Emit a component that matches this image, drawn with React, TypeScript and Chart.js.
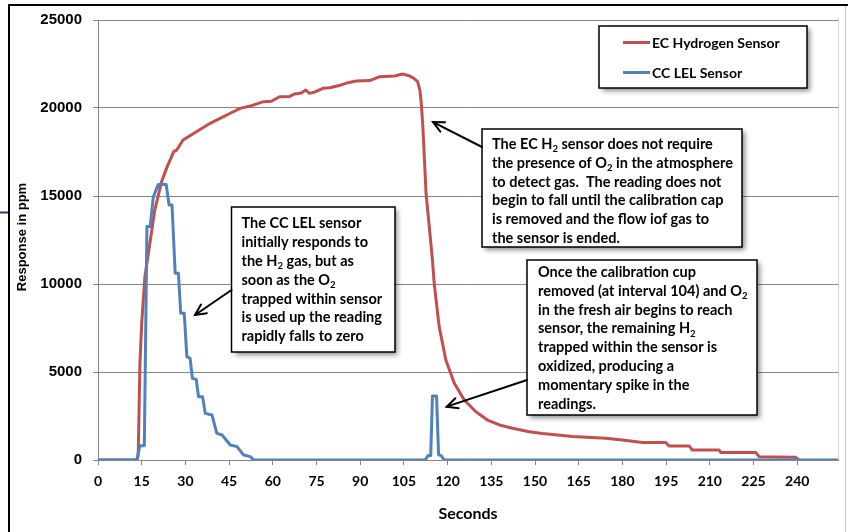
import React, { useEffect, useRef } from "react";
import { Chart, registerables } from "chart.js";

Chart.register(...registerables);

// ---- data ----
const seriesNames = ["EC Hydrogen Sensor", "CC LEL Sensor"];

const ecTime = [0, 13.4, 13.8, 14.4, 15.0, 16.1, 17.8, 19.5, 21.8, 23.5, 26.0, 27.0, 29.2, 31.0, 33.9, 38.5, 41.9, 45.4, 48.8, 52.2, 56.8, 59.5, 62.3, 65.8, 67.5, 69.8, 71.3, 72.6, 74.3, 77.2, 79.5, 83.5, 85.8, 88.7, 93.3, 96.7, 101.8, 104.5, 106.5, 108.3, 109.7, 110.5, 111.0, 111.5, 112.6, 113.7, 114.8, 115.4, 117.1, 119.4, 122.3, 125.7, 129.7, 133.7, 137.8, 142.3, 148.0, 152.6, 162.9, 174.3, 180.0, 186.9, 194.9, 196.0, 202.9, 204.0, 213.2, 213.8, 225.8, 226.9, 239.5, 240.6];
const ecValue = [0, 0, 300, 5510, 7780, 10420, 12310, 14200, 15800, 16570, 17520, 17610, 18180, 18370, 18660, 19130, 19410, 19700, 19980, 20110, 20360, 20380, 20640, 20660, 20800, 20850, 21020, 20830, 20900, 21120, 21150, 21310, 21440, 21530, 21560, 21780, 21820, 21930, 21850, 21700, 21500, 21000, 20200, 18940, 15150, 13260, 11360, 10040, 7580, 5680, 4360, 3410, 2740, 2270, 1990, 1800, 1610, 1510, 1330, 1230, 1140, 1000, 1000, 800, 800, 570, 570, 420, 420, 190, 150, 0];

const ccTime = [0, 13.3, 14.4, 15.9, 16.8, 17.9, 19.0, 20.7, 23.4, 24.4, 25.4, 26.5, 27.6, 28.4, 29.6, 30.5, 31.6, 32.4, 33.7, 34.5, 35.9, 36.8, 39.1, 40.8, 42.6, 45.4, 47.7, 50.0, 52.3, 53.4, 112.3, 113.3, 114.2, 114.8, 116.2, 116.9, 117.8, 118.8, 254];
const ccValue = [0, 0, 810, 810, 13260, 13260, 14960, 15660, 15660, 14490, 14490, 10610, 10610, 8340, 8340, 5870, 5780, 4640, 4580, 3600, 3600, 2650, 2560, 1510, 1420, 850, 760, 280, 190, 0, 0, 250, 250, 3640, 3640, 300, 250, 0, 0];

const xTickValues = [0, 15, 30, 45, 60, 75, 90, 105, 120, 135, 150, 165, 180, 195, 210, 225, 240];
const yTickValues = [0, 5000, 10000, 15000, 20000, 25000];

const xTitle = "Seconds";
const yTitle = "Response in ppm";

const noteEC = [
  "The EC H{2} sensor does not require",
  "the presence of O{2} in the atmosphere",
  "to detect gas.  The reading does not",
  "begin to fall until the calibration cap",
  "is removed and the flow iof gas to",
  "the sensor is ended.",
];
const noteCC = [
  "The CC LEL sensor",
  "initially responds to",
  "the H{2} gas, but as",
  "soon as the O{2}",
  "trapped within sensor",
  "is used up the reading",
  "rapidly falls to zero",
];
const noteSpike = [
  "Once the calibration cup",
  "removed (at interval 104) and O{2}",
  "in the fresh air begins to reach",
  "sensor, the remaining H{2}",
  "trapped within the sensor is",
  "oxidized, producing a",
  "momentary spike in the",
  "readings.",
];

// arrow targets in data coordinates [seconds, ppm]
const arrowTargets = [
  [115.0, 19200],
  [33.3, 8240],
  [119.7, 3030],
];

const RED = "#C0504D";
const BLUE = "#4F81BD";
const NOTE_FONT = "Lato";
const NOTE_SIZE = 14.5;
const LEGEND_SIZE = 14;

function drawRich(ctx: CanvasRenderingContext2D, s: string, x: number, y: number, size: number, family: string) {
  const parts = s.split(/\{(\d+)\}/);
  let cx = x;
  parts.forEach((p, i) => {
    if (!p) return;
    const sub = i % 2 === 1;
    ctx.font = `bold ${sub ? size * 0.66 : size}px ${family}`;
    ctx.fillText(p, cx, sub ? y + size * 0.22 : y);
    cx += ctx.measureText(p).width;
  });
}

function drawBox(ctx: CanvasRenderingContext2D, x: number, y: number, w: number, h: number) {
  ctx.save();
  ctx.shadowColor = "rgba(0,0,0,0.45)";
  ctx.shadowBlur = 5;
  ctx.shadowOffsetX = 3;
  ctx.shadowOffsetY = 3;
  ctx.fillStyle = "#ffffff";
  ctx.fillRect(x, y, w, h);
  ctx.restore();
  ctx.save();
  ctx.strokeStyle = "#000000";
  ctx.lineWidth = 1.5;
  ctx.strokeRect(x, y, w, h);
  ctx.restore();
}

function drawArrow(ctx: CanvasRenderingContext2D, x1: number, y1: number, x2: number, y2: number) {
  const a = Math.atan2(y2 - y1, x2 - x1);
  const L = 12;
  const s = 0.45;
  ctx.save();
  ctx.strokeStyle = "#000";
  ctx.lineWidth = 2;
  ctx.lineCap = "round";
  ctx.lineJoin = "miter";
  ctx.beginPath();
  ctx.moveTo(x1, y1);
  ctx.lineTo(x2, y2);
  ctx.stroke();
  ctx.beginPath();
  ctx.moveTo(x2 - L * Math.cos(a - s), y2 - L * Math.sin(a - s));
  ctx.lineTo(x2, y2);
  ctx.lineTo(x2 - L * Math.cos(a + s), y2 - L * Math.sin(a + s));
  ctx.stroke();
  ctx.restore();
}

const notes = [
  { lines: noteEC, box: [482, 129, 260, 118], textX: 492, base: 149, tail: [482, 147] },
  { lines: noteCC, box: [231.5, 207, 163.5, 145], textX: 241.5, base: 228.3, tail: [231.5, 290] },
  { lines: noteSpike, box: [527, 260, 230, 155], textX: 538, base: 277, tail: [527, 380] },
];

const overlayPlugin = {
  id: "overlay",
  afterDraw(chart: any) {
    const ctx: CanvasRenderingContext2D = chart.ctx;
    const ca = chart.chartArea;
    const xs = chart.scales.x;
    const ys = chart.scales.y;
    ctx.save();

    // plot area right border
    ctx.strokeStyle = "#d4d4d4";
    ctx.lineWidth = 1;
    ctx.beginPath();
    ctx.moveTo(ca.right + 0.5, ca.top - 2);
    ctx.lineTo(ca.right + 0.5, ca.bottom);
    ctx.stroke();

    // outer frame
    ctx.strokeStyle = "#000";
    ctx.lineWidth = 2;
    ctx.beginPath();
    ctx.moveTo(9, 532);
    ctx.lineTo(9, 5);
    ctx.lineTo(848, 5);
    ctx.stroke();
    ctx.strokeStyle = "#c8c8c8";
    ctx.lineWidth = 1;
    ctx.beginPath();
    ctx.moveTo(845.5, 6);
    ctx.lineTo(845.5, 532);
    ctx.stroke();
    ctx.strokeStyle = "#1F3D6E";
    ctx.lineWidth = 2;
    ctx.beginPath();
    ctx.moveTo(0, 212.5);
    ctx.lineTo(8, 212.5);
    ctx.stroke();

    // legend
    drawBox(ctx, 599, 26, 208, 62);
    ctx.lineWidth = 3;
    ctx.strokeStyle = RED;
    ctx.beginPath();
    ctx.moveTo(623, 42.5);
    ctx.lineTo(650, 42.5);
    ctx.stroke();
    ctx.strokeStyle = BLUE;
    ctx.beginPath();
    ctx.moveTo(623, 72.5);
    ctx.lineTo(650, 72.5);
    ctx.stroke();
    ctx.fillStyle = "#000";
    ctx.textAlign = "left";
    ctx.textBaseline = "alphabetic";
    drawRich(ctx, seriesNames[0], 652, 47.5, LEGEND_SIZE, NOTE_FONT);
    drawRich(ctx, seriesNames[1], 652, 77.5, LEGEND_SIZE, NOTE_FONT);

    // notes
    notes.forEach((n, i) => {
      const [bx, by, bw, bh] = n.box;
      drawBox(ctx, bx, by, bw, bh);
      ctx.fillStyle = "#000";
      n.lines.forEach((ln, k) => {
        drawRich(ctx, ln, n.textX, n.base + k * 18.8, NOTE_SIZE, NOTE_FONT);
      });
      const t = arrowTargets[i];
      drawArrow(ctx, n.tail[0], n.tail[1], xs.getPixelForValue(t[0]), ys.getPixelForValue(t[1]));
    });

    // axis titles
    ctx.fillStyle = "#000";
    ctx.font = "bold 16px Lato";
    ctx.textAlign = "center";
    ctx.textBaseline = "alphabetic";
    ctx.fillText(xTitle, (ca.left + ca.right) / 2, 519);
    ctx.save();
    ctx.translate(26, 237);
    ctx.rotate(-Math.PI / 2);
    ctx.font = "bold 13px 'Liberation Sans'";
    ctx.textAlign = "center";
    ctx.fillText(yTitle, 0, 0);
    ctx.restore();

    ctx.restore();
  },
};

export default function App() {
  const ref = useRef<HTMLCanvasElement | null>(null);
  useEffect(() => {
    if (!ref.current) return;
    const ecData = ecTime.map((t, i) => ({ x: t, y: ecValue[i] }));
    const ccData = ccTime.map((t, i) => ({ x: t, y: ccValue[i] }));
    const chart = new Chart(ref.current, {
      type: "line",
      data: {
        datasets: [
          { label: seriesNames[0], data: ecData, borderColor: RED, backgroundColor: RED, borderWidth: 3, pointRadius: 0, tension: 0, order: 2, borderJoinStyle: "round" },
          { label: seriesNames[1], data: ccData, borderColor: BLUE, backgroundColor: BLUE, borderWidth: 3, pointRadius: 0, tension: 0, order: 1, borderJoinStyle: "round" },
        ],
      },
      options: {
        animation: false,
        responsive: false,
        devicePixelRatio: 1,
        layout: { padding: { top: 20, right: 20, left: 0, bottom: 0 } },
        plugins: { legend: { display: false }, tooltip: { enabled: false }, title: { display: false } },
        scales: {
          x: {
            type: "linear",
            min: 0,
            max: 254,
            afterBuildTicks: (s: any) => {
              s.ticks = xTickValues.map((v) => ({ value: v }));
            },
            afterFit: (s: any) => {
              s.height = 72;
            },
            grid: { drawOnChartArea: false, drawTicks: true, tickLength: 5, color: "#868686" },
            border: { color: "#868686", width: 1 },
            ticks: {
              font: { family: "Lato", weight: "bold", size: 14 },
              color: "#000",
              padding: 8,
              maxRotation: 0,
              autoSkip: false,
              callback: (v: any) => String(v),
            },
          },
          y: {
            type: "linear",
            min: 0,
            max: 25000,
            afterBuildTicks: (s: any) => {
              s.ticks = yTickValues.map((v) => ({ value: v }));
            },
            afterFit: (s: any) => {
              s.width = 98;
            },
            grid: { color: "#868686", tickLength: 5, drawTicks: true },
            border: { color: "#868686", width: 1 },
            ticks: {
              font: { family: "'Liberation Sans'", weight: "bold", size: 15 },
              color: "#000",
              padding: 11,
              callback: (v: any) => String(v),
            },
          },
        },
      },
      plugins: [overlayPlugin],
    });
    return () => chart.destroy();
  }, []);
  return (
    <div style={{ position: "fixed", left: 0, top: 0, width: 858, height: 532, background: "#fff" }}>
      <canvas ref={ref} width={858} height={532} style={{ display: "block" }} />
    </div>
  );
}
